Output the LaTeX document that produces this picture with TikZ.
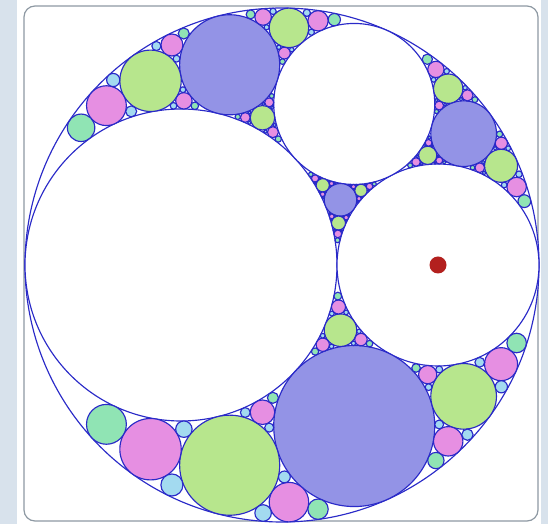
\documentclass[tikz,border=0pt]{standalone}

\definecolor{rim}{HTML}{2A2AC8}
\definecolor{gen0}{HTML}{FFFFFF}
\definecolor{gen1}{HTML}{9393E6}
\definecolor{gen2}{HTML}{B7E68D}
\definecolor{gen3}{HTML}{E68FE2}
\definecolor{gen4}{HTML}{90E4B4}
\definecolor{gen5}{HTML}{A3DAF0}
\definecolor{side}{HTML}{D8E2EC}
\definecolor{card}{HTML}{8E99A3}
\definecolor{spot}{HTML}{B3201E}

% a circle is {curvature}{curvature*x}{curvature*y}, outer circle radius 1
\newcommand\gcK[3]{#1}
\newcommand\gcX[3]{#2}
\newcommand\gcY[3]{#3}
\newcommand\gcdepth{4}
\newcommand\gcratio{0.607}% radius of the big left circle

\edef\gcO{{-1}{0}{0}}
\edef\gcL{{\fpeval{1/\gcratio}}{\fpeval{-(1-\gcratio)/\gcratio}}{0}}
\edef\gcR{{\fpeval{1/(1-\gcratio)}}{\fpeval{\gcratio/(1-\gcratio)}}{0}}
\edef\gcT{{\fpeval{1/(\gcratio*(1-\gcratio))-1}}%
  {\fpeval{\gcratio/(1-\gcratio)-(1-\gcratio)/\gcratio}}{2}}

\newcommand\gcdraw[4]{%
  \edef\gcx{\fpeval{round(282+257*(#2)/(#1),2)}}%
  \edef\gcy{\fpeval{round(259+257*(#3)/(#1),2)}}%
  \edef\gcr{\fpeval{round(257/abs(#1),2)}}%
  \draw[disc, fill=gen#4] (\gcx,\gcy) circle[radius=\gcr];}

% fill the gap #1 #2 #3, #4 is the circle on the other side,
% #5 generation, #6 = 1 when the gap holds the two youngest circles
\newcommand\gcnext[6]{%
  \ifnum#5>\gcdepth\else
  \begingroup
    \edef\gk{\fpeval{2*((\gcK#1)+(\gcK#2)+(\gcK#3))-(\gcK#4)}}%
    \edef\gx{\fpeval{2*((\gcX#1)+(\gcX#2)+(\gcX#3))-(\gcX#4)}}%
    \edef\gy{\fpeval{2*((\gcY#1)+(\gcY#2)+(\gcY#3))-(\gcY#4)}}%
    \ifnum#5#6=41 \gcdraw\gk\gx\gy{5}\else\gcdraw\gk\gx\gy{#5}\fi
    \edef\gcsub{%
      \noexpand\gcnext{#1}{#2}{{\gk}{\gx}{\gy}}{#3}{\the\numexpr#5+1}{0}%
      \noexpand\gcnext{#1}{#3}{{\gk}{\gx}{\gy}}{#2}{\the\numexpr#5+1}{1}%
      \noexpand\gcnext{#2}{#3}{{\gk}{\gx}{\gy}}{#1}{\the\numexpr#5+1}{1}}%
    \gcsub
  \endgroup
  \fi}

\begin{document}
\begin{tikzpicture}[
  x=1pt, y=1pt,
  disc/.style={draw=rim, line width=1.15pt},
  reddot/.style={fill=spot},
]
  \useasboundingbox (0,0) rectangle (548,524);

  % ----- page and card -----
  \fill[side] (0,0) rectangle (548,524);
  \fill[white] (17,0) rectangle (541,524);
  \draw[card, line width=1.2pt, rounded corners=11pt] (24,3) rectangle (538,518);

  % ----- first four circles -----
  \expandafter\gcdraw\gcO{0}
  \expandafter\gcdraw\gcL{0}
  \expandafter\gcdraw\gcR{0}
  \expandafter\gcdraw\gcT{0}

  % ----- generations 1 to 4 -----
  \edef\gcstart{%
    \noexpand\gcnext{\gcO}{\gcL}{\gcR}{\gcT}{1}{0}%
    \noexpand\gcnext{\gcO}{\gcL}{\gcT}{\gcR}{1}{0}%
    \noexpand\gcnext{\gcO}{\gcR}{\gcT}{\gcL}{1}{0}%
    \noexpand\gcnext{\gcL}{\gcR}{\gcT}{\gcO}{1}{0}}
  \gcstart

  % centre of the right circle
  \fill[reddot] ({282+257*\gcratio},259) circle[radius=8.5];
\end{tikzpicture}
\end{document}
